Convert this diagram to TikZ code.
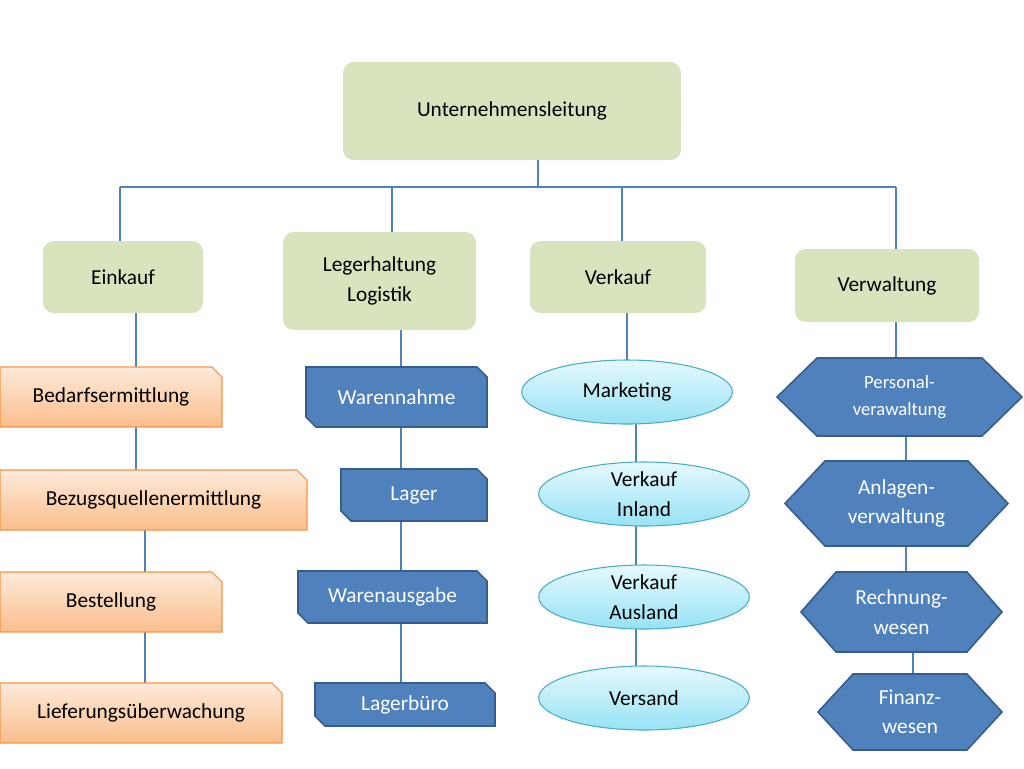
\documentclass[tikz,border=0pt]{standalone}
\usepackage{fontspec}
\setmainfont{Carlito}
\usetikzlibrary{shapes.geometric}
\begin{document}
\begin{tikzpicture}[x=0.75pt,y=-0.75pt,
  lbl/.style={inner sep=0pt,align=center,font=\fontsize{16}{20}\selectfont},
  conn/.style={draw={rgb,255:red,79;green,129;blue,189},line width=0.9pt},
  greenbox/.style={fill={rgb,255:red,215;green,228;blue,189},draw=none,rounded corners=8pt},
  orange/.style={top color={rgb,255:red,253;green,234;blue,218},bottom color={rgb,255:red,250;green,190;blue,140},draw={rgb,255:red,247;green,150;blue,70},line width=0.8pt},
  blue/.style={fill={rgb,255:red,79;green,129;blue,189},draw={rgb,255:red,56;green,93;blue,138},line width=1.2pt},
  oval/.style={ellipse,top color={rgb,255:red,230;green,249;blue,253},bottom color={rgb,255:red,150;green,226;blue,245},draw={rgb,255:red,75;green,172;blue,198},line width=0.8pt,minimum width=158pt,minimum height=48pt,inner sep=0pt,align=center,font=\fontsize{16}{20}\selectfont}]
\useasboundingbox (0,0) rectangle (1024,768);
\fill[white] (0,0) rectangle (1024,768);
\newcommand\gbox[6]{\fill[greenbox] (#2,#3) rectangle (#4,#5);
  \node[lbl] (#1) at ({(#2+#4)/2},{(#3+#5)/2}) [minimum width={(#4-#2)*0.75pt},minimum height={(#5-#3)*0.75pt}] {#6};}
\newcommand\obox[6]{\draw[orange] (#2,#3) -- ({#4-10},#3) -- (#4,{#3+10}) -- (#4,#5) -- (#2,#5) -- cycle;
  \node[lbl] (#1) at ({(#2+#4)/2},{(#3+#5)/2}) [minimum width={(#4-#2)*0.75pt},minimum height={(#5-#3)*0.75pt}] {#6};}
\newcommand\bbox[6]{\draw[blue] (#2,#3) -- ({#4-10},#3) -- (#4,{#3+10}) -- (#4,#5) -- ({#2+10},#5) -- (#2,{#5-10}) -- cycle;
  \node[lbl,text=white] (#1) at ({(#2+#4)/2},{(#3+#5)/2}) [minimum width={(#4-#2)*0.75pt},minimum height={(#5-#3)*0.75pt}] {#6};}
\newcommand\hexbox[7]{\draw[blue] (#2,{(#3+#5)/2}) -- ({#2+#7},#3) -- ({#4-#7},#3) -- (#4,{(#3+#5)/2}) -- ({#4-#7},#5) -- ({#2+#7},#5) -- cycle;
  \node[lbl,text=white] (#1) at ({(#2+#4)/2},{(#3+#5)/2}) [minimum width={(#4-#2)*0.75pt},minimum height={(#5-#3)*0.75pt}] {#6};}
% connectors
\coordinate (hl) at (120,187); \coordinate (hr) at (896,187);
\draw[conn] (hl) -- (hr);
\draw[conn] (120,187) -- (120,241);
\draw[conn] (392,187) -- (392,232);
\draw[conn] (622,187) -- (622,241);
\draw[conn] (896,187) -- (896,249);
\draw[conn] (538,160) -- (538,187);
\draw[conn] (136,313) -- (136,367); \draw[conn] (136,427) -- (136,470);
\draw[conn] (145,530) -- (145,572); \draw[conn] (145,632) -- (145,683);
\draw[conn] (401,330) -- (401,683);
\draw[conn] (627,313) -- (627,360); \draw[conn] (636,424) -- (636,462);
\draw[conn] (636,526) -- (636,565); \draw[conn] (636,629) -- (636,666);
\draw[conn] (896,322) -- (896,358); \draw[conn] (906,436) -- (906,461);
\draw[conn] (906,546) -- (906,572); \draw[conn] (913,652) -- (913,674);
% boxes
\gbox{top}{343}{62}{681}{160}{Unternehmensleitung}
\gbox{ein}{43}{241}{203}{313}{Einkauf}
\gbox{leg}{283}{232}{476}{330}{Legerhaltung\\[3pt]Logistik}
\gbox{vk}{530}{241}{706}{313}{Verkauf}
\gbox{vw}{795}{249}{979}{322}{Verwaltung}
\obox{o1}{0}{367}{222}{427}{Bedarfsermittlung}
\obox{o2}{0}{470}{307}{530}{Bezugsquellenermittlung}
\obox{o3}{0}{572}{222}{632}{Bestellung}
\obox{o4}{0}{683}{282}{743}{Lieferungsüberwachung}
\bbox{b1}{306}{367}{487}{427}{Warennahme}
\bbox{b2}{341}{469}{487}{521}{Lager}
\bbox{b3}{298}{571}{487}{623}{Warenausgabe}
\bbox{b4}{315}{683}{495}{726}{Lagerbüro}
\node[oval] (e1) at (627,392) {Marketing};
\node[oval] (e2) at (644,494) {Verkauf\\[2pt]Inland};
\node[oval] (e3) at (644,597) {Verkauf\\[2pt]Ausland};
\node[oval] (e4) at (644,698) {Versand};
\hexbox{h1}{777}{358}{1022}{436}{\fontsize{14}{17}\selectfont Personal-\\\fontsize{14}{17}\selectfont verawaltung}{40}
\hexbox{h2}{785}{461}{1008}{546}{Anlagen-\\[2pt]verwaltung}{40}
\hexbox{h3}{801}{572}{1002}{652}{Rechnung-\\[2pt]wesen}{35}
\hexbox{h4}{818}{674}{1002}{750}{Finanz-\\[2pt]wesen}{35}
\end{tikzpicture}
\end{document}
